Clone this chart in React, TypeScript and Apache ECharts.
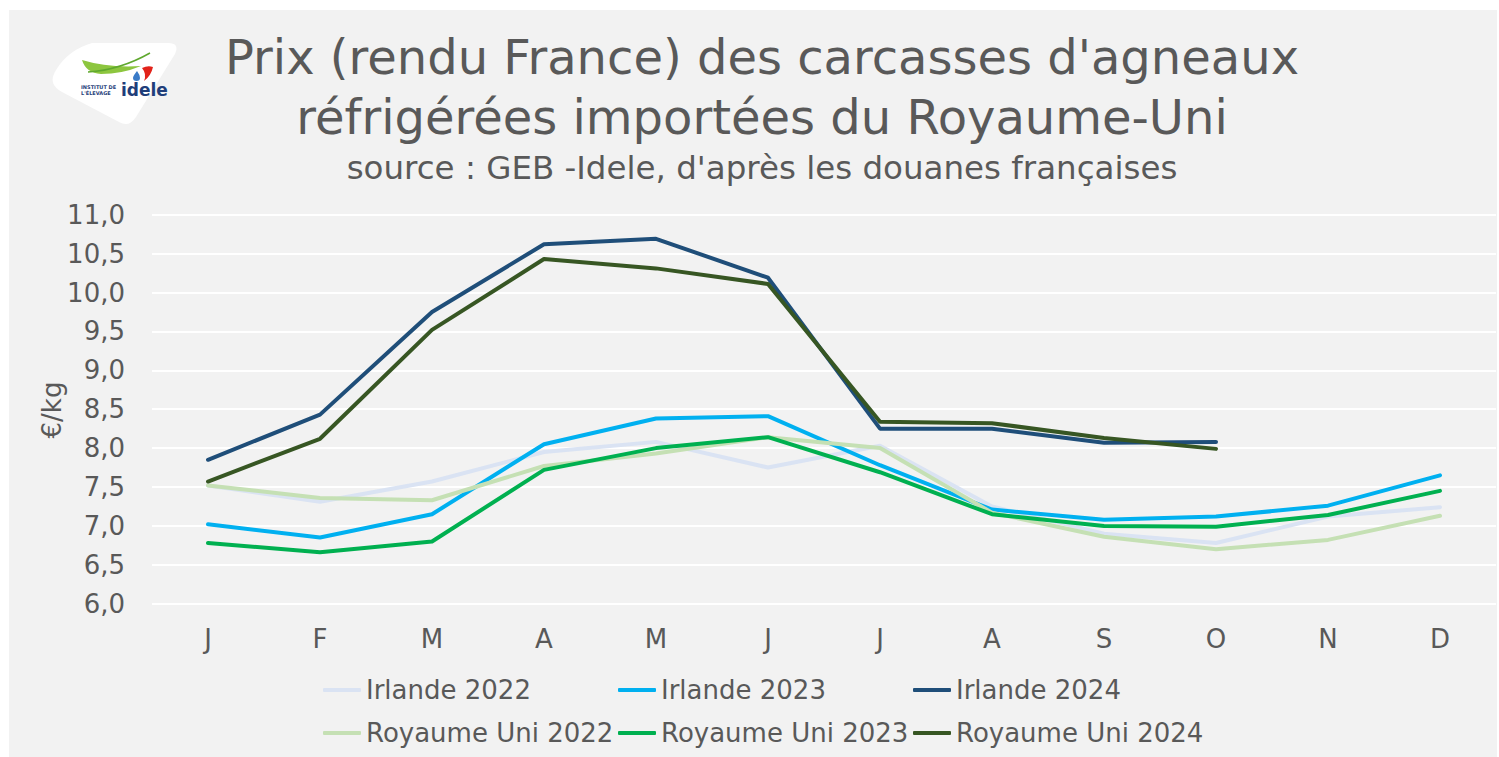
import React, { useEffect, useRef } from "react";
import * as echarts from "echarts";

const months = ["J", "F", "M", "A", "M", "J", "J", "A", "S", "O", "N", "D"];
const yMin = 6;
const yMax = 11;
const yStep = 0.5;

const seriesNames = [
  "Irlande 2022",
  "Irlande 2023",
  "Irlande 2024",
  "Royaume Uni 2022",
  "Royaume Uni 2023",
  "Royaume Uni 2024",
];
const seriesColors = ["#DAE3F3", "#00B0F0", "#1F4E79", "#C5E0B4", "#00B050", "#375623"];

const irlande2022 = [7.52, 7.31, 7.57, 7.95, 8.08, 7.75, 8.03, 7.25, 6.9, 6.78, 7.12, 7.24];
const irlande2023 = [7.02, 6.85, 7.15, 8.05, 8.38, 8.41, 7.78, 7.21, 7.08, 7.12, 7.26, 7.65];
const irlande2024 = [7.85, 8.43, 9.75, 10.62, 10.69, 10.19, 8.25, 8.25, 8.07, 8.08, null, null];
const ru2022 = [7.52, 7.36, 7.33, 7.77, 7.93, 8.14, 8.0, 7.17, 6.86, 6.7, 6.82, 7.13];
const ru2023 = [6.78, 6.66, 6.8, 7.72, 8.0, 8.14, 7.69, 7.15, 7.0, 6.99, 7.14, 7.45];
const ru2024 = [7.57, 8.12, 9.52, 10.43, 10.31, 10.11, 8.34, 8.32, 8.13, 7.99, null, null];

const seriesData = [irlande2022, irlande2023, irlande2024, ru2022, ru2023, ru2024];

const titleLine1 = "Prix (rendu France) des carcasses d'agneaux";
const titleLine2 = "réfrigérées importées du Royaume-Uni";
const subtitle = "source : GEB -Idele, d'après les douanes françaises";
const yAxisName = "€/kg";

const FONT = "'DejaVu Sans', sans-serif";
const TEXT = "#595959";

echarts.graphic.registerShape(
  "ideleBadge",
  echarts.graphic.extendPath(
    "M92 43 L168 43 Q180 43 175 54 L136 117 Q129 128 119 122 L62 92 Q47 84 56 70 Q68 50 92 43 Z",
    {}
  )
);
echarts.graphic.registerShape(
  "ideleSwoosh",
  echarts.graphic.extendPath("M82 60 Q108 68 141 66 Q122 74 101 74 Q86 73 82 60 Z", {})
);
echarts.graphic.registerShape(
  "ideleRed",
  echarts.graphic.extendPath("M142 68 Q148 65 153 67 Q151 76 144 81 Q147 74 142 68 Z", {})
);
echarts.graphic.registerShape(
  "ideleDrop",
  echarts.graphic.extendPath("M137 71 Q133 76 133 78 Q133 81 136.5 81 Q140 81 140 78 Q140 75 137 71 Z", {})
);

if (typeof document !== "undefined") {
  document.body.style.margin = "0";
}

export default function App() {
  const ref = useRef<HTMLDivElement>(null);

  useEffect(() => {
    if (!ref.current) return;
    const chart = echarts.init(ref.current, null, { renderer: "svg" });

    const legendPos = [
      [314, 665],
      [609, 665],
      [904, 665],
      [314, 708],
      [609, 708],
      [904, 708],
    ];

    const option: any = {
      animation: false,
      backgroundColor: "#F2F2F2",
      grid: {
        left: 143,
        right: 1,
        top: 204.7,
        bottom: 153.3,
        containLabel: false,
        outerBoundsMode: "none",
      },
      xAxis: {
        type: "category",
        data: months,
        boundaryGap: true,
        axisLine: { show: false },
        axisTick: { show: false },
        splitLine: { show: false },
        axisLabel: {
          color: TEXT,
          fontSize: 26,
          fontFamily: FONT,
          margin: 22,
          interval: 0,
        },
      },
      yAxis: {
        type: "value",
        min: yMin,
        max: yMax,
        interval: yStep,
        axisLine: { show: false },
        axisTick: { show: false },
        splitLine: { show: true, lineStyle: { color: "#FFFFFF", width: 2 } },
        axisLabel: {
          color: TEXT,
          fontSize: 26,
          fontFamily: FONT,
          margin: 27,
          formatter: (v: number) => v.toFixed(1).replace(".", ","),
        },
      },
      legend: seriesNames.map((n, i) => ({
        data: [{ name: n, icon: "roundRect" }],
        left: legendPos[i][0],
        top: legendPos[i][1],
        padding: 0,
        itemWidth: 38,
        itemHeight: 4,
        selectedMode: false,
        itemStyle: { color: seriesColors[i], borderWidth: 0 },
        textStyle: { color: TEXT, fontSize: 26, fontFamily: FONT, lineHeight: 30 },
      })),
      series: seriesNames.map((n, i) => ({
        name: n,
        type: "line",
        data: seriesData[i],
        symbol: "none",
        smooth: false,
        lineStyle: { color: seriesColors[i], width: 4, cap: "round", join: "round" },
        itemStyle: { color: seriesColors[i] },
        emphasis: { disabled: true },
      })),
      graphic: [
        {
          type: "text",
          x: 753,
          y: 47,
          style: { text: titleLine1, fill: TEXT, fontSize: 48, fontFamily: FONT, align: "center", verticalAlign: "middle" },
        },
        {
          type: "text",
          x: 753,
          y: 107,
          style: { text: titleLine2, fill: TEXT, fontSize: 48, fontFamily: FONT, align: "center", verticalAlign: "middle" },
        },
        {
          type: "text",
          x: 753,
          y: 158,
          style: { text: subtitle, fill: TEXT, fontSize: 32.5, fontFamily: FONT, align: "center", verticalAlign: "middle" },
        },
        {
          type: "text",
          x: 43,
          y: 400,
          rotation: Math.PI / 2,
          style: { text: yAxisName, fill: TEXT, fontSize: 26, fontFamily: FONT, align: "center", verticalAlign: "middle" },
        },
        {
          type: "group",
          x: -9,
          y: -10,
          children: [
            { type: "ideleBadge", style: { fill: "#FFFFFF" } },
            { type: "ideleSwoosh", style: { fill: "#8DC63F" } },
            {
              type: "bezierCurve",
              shape: { x1: 88, y1: 72, x2: 150, y2: 53, cpx1: 120, cpy1: 70 },
              style: { stroke: "#5FA82E", lineWidth: 1.5, fill: "none" },
            },
            { type: "ideleRed", style: { fill: "#E2231A" } },
            { type: "ideleDrop", style: { fill: "#3A7BC8" } },
            {
              type: "text",
              x: 81,
              y: 87,
              style: { text: "INSTITUT DE", fill: "#1F3E7A", fontSize: 5, fontWeight: "bold", fontFamily: FONT, align: "left", verticalAlign: "middle" },
            },
            {
              type: "text",
              x: 81,
              y: 93,
              style: { text: "L'ÉLEVAGE", fill: "#1F3E7A", fontSize: 5, fontWeight: "bold", fontFamily: FONT, align: "left", verticalAlign: "middle" },
            },
            {
              type: "text",
              x: 121,
              y: 90,
              style: { text: "idele", fill: "#1F3E7A", fontSize: 17, fontWeight: "bold", fontFamily: FONT, align: "left", verticalAlign: "middle" },
            },
          ],
        },
      ],
    };

    chart.setOption(option);
    return () => {
      chart.dispose();
    };
  }, []);

  return (
    <div
      ref={ref}
      style={{ position: "absolute", left: 9, top: 10, width: 1488, height: 747 }}
    />
  );
}
